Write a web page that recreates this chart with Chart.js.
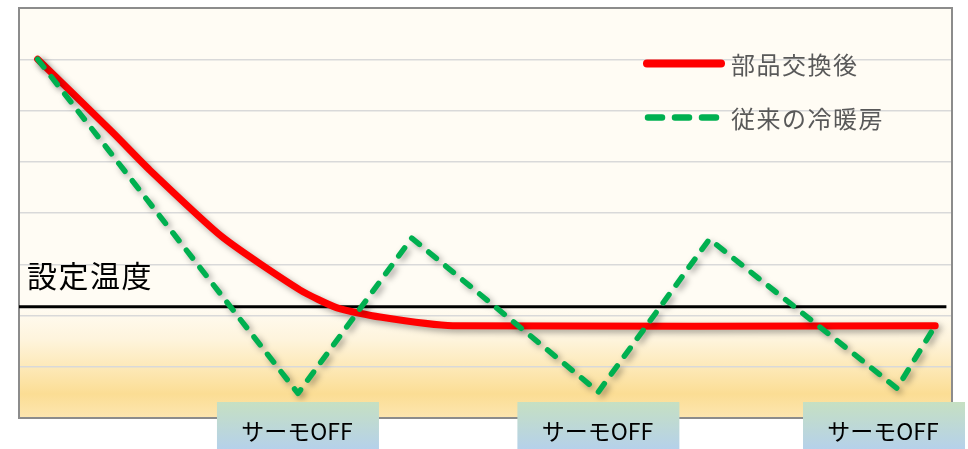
<!DOCTYPE html>
<html>
<head>
<meta charset="utf-8">
<script src="https://cdn.jsdelivr.net/npm/chart.js@4/dist/chart.umd.min.js"></script>
<style>
  html, body { margin: 0; padding: 0; background: #ffffff; }
  #wrap { width: 968px; height: 449px; }
</style>
</head>
<body>
<div id="wrap"><canvas id="chart" width="968" height="449"></canvas></div>
<script>
// Room temperature over time (relative units)
const timeAfter = [2, 10.1, 14.0, 21.8, 30.1, 34.1, 38.7, 46.5, 98.2];
const tempAfter = [7.0, 5.56, 4.84, 3.53, 2.50, 2.15, 1.97, 1.80, 1.80];

const timeConventional = [2, 29.9, 42.1, 62.1, 74.0, 94.1, 98.2];
const tempConventional = [7.0, 0.48, 3.51, 0.51, 3.49, 0.58, 1.80];

const setpointTemp = 2.17;
const setpointSpan = [0, 99.4];

const seriesNames = ['部品交換後', '従来の冷暖房'];
const setpointLabel = '設定温度';
const offLabel = 'サーモOFF';
// indexes of the conventional series where the thermostat switches off
const offPointIndexes = [1, 3, 5];

const yTicks = { min: 0, max: 8, step: 1 };

const toPoints = (xs, ys) => xs.map((x, i) => ({ x: x, y: ys[i] }));

const JP = '"Noto Sans CJK JP", "Noto Sans", sans-serif';

const plotBackground = {
  id: 'plotBackground',
  beforeDraw(chart) {
    const { ctx, chartArea: a } = chart;
    ctx.save();
    ctx.fillStyle = '#ffffff';
    ctx.fillRect(0, 0, chart.width, chart.height);
    const g = ctx.createLinearGradient(0, a.top, 0, a.bottom);
    const h = a.bottom - a.top;
    const at = (py) => Math.min(1, Math.max(0, (py - a.top) / h));
    g.addColorStop(0, '#fffcf4');
    g.addColorStop(at(305), '#fffcf4');
    g.addColorStop(at(340), '#fef4dc');
    g.addColorStop(at(367), '#fde9b8');
    g.addColorStop(at(394), '#fbdd94');
    g.addColorStop(1, '#fde6b0');
    ctx.fillStyle = g;
    ctx.fillRect(a.left, a.top, a.right - a.left, a.bottom - a.top);
    ctx.restore();
  },
  beforeDatasetsDraw(chart) {
    const { ctx, chartArea: a } = chart;
    ctx.save();
    ctx.strokeStyle = '#8c8c8c';
    ctx.lineWidth = 2;
    ctx.strokeRect(a.left, a.top, a.right - a.left, a.bottom - a.top);
    ctx.restore();
  }
};

const lineShadow = {
  id: 'lineShadow',
  beforeDatasetDraw(chart, args) {
    const ds = chart.data.datasets[args.index];
    if (!ds.shadow) return;
    const ctx = chart.ctx;
    ctx.save();
    ctx.shadowColor = 'rgba(0,0,0,0.35)';
    ctx.shadowBlur = 6;
    ctx.shadowOffsetX = 3;
    ctx.shadowOffsetY = 3;
  },
  afterDatasetDraw(chart, args) {
    const ds = chart.data.datasets[args.index];
    if (!ds.shadow) return;
    chart.ctx.restore();
  }
};

const annotations = {
  id: 'annotations',
  afterDraw(chart) {
    const { ctx } = chart;
    const xs = chart.scales.x, ys = chart.scales.y;
    const dsets = chart.data.datasets;

    // series key
    ctx.save();
    const keyRows = [
      { ds: dsets[0], y: 63.5 },
      { ds: dsets[1], y: 117.5 }
    ];
    keyRows.forEach((row, i) => {
      ctx.save();
      ctx.strokeStyle = row.ds.borderColor;
      ctx.lineWidth = row.ds.borderWidth + 1;
      ctx.lineCap = 'round';
      if (row.ds.borderDash && row.ds.borderDash.length) {
        ctx.setLineDash([14, 13]);
        ctx.beginPath();
        ctx.moveTo(648, row.y);
        ctx.lineTo(716, row.y);
        ctx.stroke();
      } else {
        ctx.beginPath();
        ctx.moveTo(647, row.y);
        ctx.lineTo(721, row.y);
        ctx.stroke();
      }
      ctx.restore();
      ctx.fillStyle = '#595959';
      ctx.font = '24px ' + JP;
      ctx.textAlign = 'left';
      ctx.textBaseline = 'middle';
      if ('letterSpacing' in ctx) ctx.letterSpacing = '1.5px';
      ctx.fillText(seriesNames[i], 731, row.y + 1);
    });
    ctx.restore();

    // setpoint label
    ctx.save();
    ctx.fillStyle = '#000000';
    ctx.font = '30px ' + JP;
    ctx.textAlign = 'left';
    ctx.textBaseline = 'middle';
    if ('letterSpacing' in ctx) ctx.letterSpacing = '1.5px';
    ctx.fillText(setpointLabel, 27, ys.getPixelForValue(setpointTemp) - 31);
    ctx.restore();

    // thermostat-off tags under each trough
    ctx.save();
    const boxW = 162, boxTop = 402, boxBottom = chart.height;
    offPointIndexes.forEach((idx) => {
      const cx = xs.getPixelForValue(timeConventional[idx]);
      let left = cx - boxW / 2;
      if (left + boxW > chart.width - 3) left = chart.width - 3 - boxW;
      const g = ctx.createLinearGradient(0, boxTop, 0, boxBottom);
      g.addColorStop(0, '#c6e0c2');
      g.addColorStop(1, '#b5d1ea');
      ctx.fillStyle = g;
      ctx.fillRect(left, boxTop, boxW, boxBottom - boxTop);
      ctx.fillStyle = '#000000';
      ctx.font = '23px ' + JP;
      ctx.textAlign = 'center';
      ctx.textBaseline = 'middle';
      ctx.fillText(offLabel, left + boxW / 2 - 1, 431);
    });
    ctx.restore();
  }
};

new Chart(document.getElementById('chart'), {
  type: 'line',
  data: {
    datasets: [
      {
        label: seriesNames[0],
        data: toPoints(timeAfter, tempAfter),
        borderColor: '#ff0000',
        borderWidth: 7,
        borderCapStyle: 'round',
        borderJoinStyle: 'round',
        tension: 0.2,
        pointRadius: 0,
        fill: false,
        shadow: true,
        order: 2
      },
      {
        label: seriesNames[1],
        data: toPoints(timeConventional, tempConventional),
        borderColor: '#00b050',
        borderWidth: 5.5,
        borderDash: [10, 12],
        borderCapStyle: 'round',
        borderJoinStyle: 'round',
        tension: 0,
        pointRadius: 0,
        fill: false,
        shadow: true,
        order: 1
      },
      {
        label: setpointLabel,
        data: toPoints(setpointSpan, [setpointTemp, setpointTemp]),
        borderColor: '#000000',
        borderWidth: 3,
        pointRadius: 0,
        fill: false,
        shadow: false,
        order: 3
      }
    ]
  },
  options: {
    responsive: false,
    animation: false,
    devicePixelRatio: 1,
    layout: { padding: { left: 19, top: 8, right: 16, bottom: 31 } },
    plugins: {
      legend: { display: false },
      tooltip: { enabled: false }
    },
    scales: {
      x: {
        type: 'linear',
        min: 0,
        max: 100,
        display: false
      },
      y: {
        min: yTicks.min,
        max: yTicks.max,
        display: true,
        afterFit(scale) { scale.width = 0; },
        ticks: { display: false, stepSize: yTicks.step },
        border: { display: false },
        grid: { color: '#d9d9d9', lineWidth: 1.5, drawTicks: false }
      }
    }
  },
  plugins: [plotBackground, lineShadow, annotations]
});
</script>
</body>
</html>
